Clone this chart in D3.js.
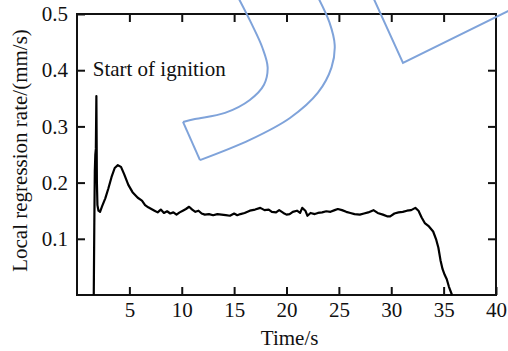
<!DOCTYPE html>
<html>
<head>
<meta charset="utf-8">
<script src="https://cdn.jsdelivr.net/npm/d3@7"></script>
<style>
  body { margin: 0; background: #fff; }
  text { font-family: "Liberation Serif", "Times New Roman", serif; }
</style>
</head>
<body>
<div id="chart"></div>
<script>
// local regression rate vs time
const times = [1.60, 1.65, 1.70, 1.75, 1.80, 1.85, 1.90, 1.95, 2.05, 2.2, 2.4, 2.7, 3.0, 3.3, 3.6, 3.9, 4.2, 4.5, 4.9, 5.3,
  5.8, 6.2, 6.5, 6.8, 7.1, 7.4, 7.7, 8.0, 8.3, 8.6, 8.9, 9.2, 9.5, 9.8, 10.1, 10.4, 10.7, 11.0, 11.3, 11.6,
  11.9, 12.2, 12.6, 13.0, 13.4, 13.8, 14.2, 14.6, 15.0, 15.3, 15.6, 16.0, 16.5, 17.0, 17.5, 17.9, 18.3, 18.6, 19.0, 19.3,
  19.7, 20.0, 20.3, 20.6, 21.0, 21.3, 21.5, 21.8, 22.0, 22.3, 22.7, 23.0, 23.4, 23.8, 24.2, 24.6, 24.9, 25.3, 25.7, 26.1,
  26.5, 27.0, 27.4, 27.8, 28.3, 28.7, 29.2, 29.6, 29.9, 30.3, 30.7, 31.1, 31.5, 31.9, 32.3, 32.6, 32.9, 33.2, 33.6, 34.0,
  34.3, 34.5, 34.7, 34.9, 35.1, 35.3, 35.5, 35.8];
const rates = [0, 0.12, 0.22, 0.25, 0.26, 0.354, 0.20, 0.16, 0.150, 0.148, 0.158, 0.172, 0.19, 0.21, 0.226, 0.231, 0.228, 0.215, 0.196, 0.183,
  0.173, 0.168, 0.160, 0.156, 0.153, 0.150, 0.147, 0.152, 0.146, 0.149, 0.145, 0.147, 0.143, 0.147, 0.150, 0.153, 0.157, 0.152, 0.148, 0.150,
  0.145, 0.143, 0.144, 0.142, 0.144, 0.143, 0.142, 0.141, 0.145, 0.142, 0.144, 0.146, 0.150, 0.152, 0.155, 0.151, 0.152, 0.148, 0.147, 0.151,
  0.146, 0.143, 0.144, 0.148, 0.150, 0.146, 0.155, 0.150, 0.141, 0.146, 0.144, 0.146, 0.147, 0.149, 0.148, 0.151, 0.153, 0.151, 0.148, 0.146,
  0.144, 0.143, 0.145, 0.147, 0.151, 0.146, 0.143, 0.140, 0.140, 0.145, 0.147, 0.148, 0.150, 0.151, 0.155, 0.150, 0.138, 0.128, 0.122, 0.113,
  0.098, 0.084, 0.062, 0.046, 0.036, 0.028, 0.015, 0];

const xTicks = [5, 10, 15, 20, 25, 30, 35, 40];
const yTicks = [0.1, 0.2, 0.3, 0.4, 0.5];

// blue overlay strokes (in chart units)
const blueInner = [[15.37, 0.53], [16.6, 0.485], [17.7, 0.44], [18.2, 0.405], [17.85, 0.374], [16.5, 0.347], [14.13, 0.324], [11.26, 0.313], [10.12, 0.308]];
const blueFoot = [[10.12, 0.308], [11.74, 0.240]];
const blueOuter = [[11.74, 0.240], [16.5, 0.276], [20.33, 0.315], [23.0, 0.36], [24.3, 0.405], [24.6, 0.445], [24.1, 0.485], [23.0, 0.53]];
const blueWedge = [[28.26, 0.53], [31.12, 0.413], [41.34, 0.507]];

const width = 508, height = 351;
const margin = {top: 14, right: 12, bottom: 56, left: 77};
const fontSize = 21;

const svg = d3.select("#chart").append("svg")
  .attr("width", width)
  .attr("height", height);

const x = d3.scaleLinear().domain([0, 40]).range([margin.left, width - margin.right]);
const y = d3.scaleLinear().domain([0, 0.5]).range([height - margin.bottom, margin.top]);

const tickLen = 8;

svg.append("g")
  .attr("transform", `translate(0,${y(0)})`)
  .call(d3.axisBottom(x).tickValues(xTicks).tickFormat(d3.format("d")).tickSizeInner(-tickLen).tickSizeOuter(0).tickPadding(7))
  .call(g => g.select(".domain").remove())
  .call(g => g.selectAll("text").attr("font-size", fontSize).attr("fill", "#111"));

svg.append("g")
  .attr("transform", `translate(0,${y(0.5)})`)
  .call(d3.axisTop(x).tickValues(xTicks.slice(0, -1)).tickFormat("").tickSizeInner(-tickLen).tickSizeOuter(0))
  .call(g => g.select(".domain").remove());

svg.append("g")
  .attr("transform", `translate(${x(0)},0)`)
  .call(d3.axisLeft(y).tickValues(yTicks).tickFormat(d3.format(".1f")).tickSizeInner(-tickLen).tickSizeOuter(0).tickPadding(9))
  .call(g => g.select(".domain").remove())
  .call(g => g.selectAll("text").attr("font-size", fontSize).attr("fill", "#111"));

svg.append("g")
  .attr("transform", `translate(${x(40)},0)`)
  .call(d3.axisRight(y).tickValues(yTicks.slice(0, -1)).tickFormat("").tickSizeInner(-tickLen).tickSizeOuter(0))
  .call(g => g.select(".domain").remove());

svg.selectAll(".tick line").attr("stroke", "#111").attr("stroke-width", 2);

svg.append("rect")
  .attr("x", x(0))
  .attr("y", y(0.5))
  .attr("width", x(40) - x(0))
  .attr("height", y(0) - y(0.5))
  .attr("fill", "none")
  .attr("stroke", "#111")
  .attr("stroke-width", 2);

const series = times.map((t, i) => [t, rates[i]]);

const line = d3.line()
  .x(d => x(d[0]))
  .y(d => y(d[1]));

svg.append("path")
  .datum(series)
  .attr("d", line)
  .attr("fill", "none")
  .attr("stroke", "#000")
  .attr("stroke-width", 2.2)
  .attr("stroke-linejoin", "round");

// labels
svg.append("text")
  .attr("x", x(1.5))
  .attr("y", y(0.4) + 6)
  .attr("font-size", fontSize)
  .attr("fill", "#111")
  .text("Start of ignition");

svg.append("text")
  .attr("x", x(20.3))
  .attr("y", 345)
  .attr("text-anchor", "middle")
  .attr("font-size", fontSize)
  .attr("fill", "#111")
  .text("Time/s");

svg.append("text")
  .attr("transform", `translate(27,${(margin.top + height - margin.bottom) / 2 - 4}) rotate(-90)`)
  .attr("text-anchor", "middle")
  .attr("font-size", fontSize)
  .attr("fill", "#111")
  .text("Local regression rate/(mm/s)");

// blue overlay
const blue = d3.line().x(d => x(d[0])).y(d => y(d[1])).curve(d3.curveCatmullRom);
const blueStraight = d3.line().x(d => x(d[0])).y(d => y(d[1]));

[[blueInner, blue], [blueFoot, blueStraight], [blueOuter, blue], [blueWedge, blueStraight]].forEach(([pts, gen]) => {
  svg.append("path")
    .datum(pts)
    .attr("d", gen)
    .attr("fill", "none")
    .attr("stroke", "#7fa3da")
    .attr("stroke-width", 2);
});
</script>
</body>
</html>
